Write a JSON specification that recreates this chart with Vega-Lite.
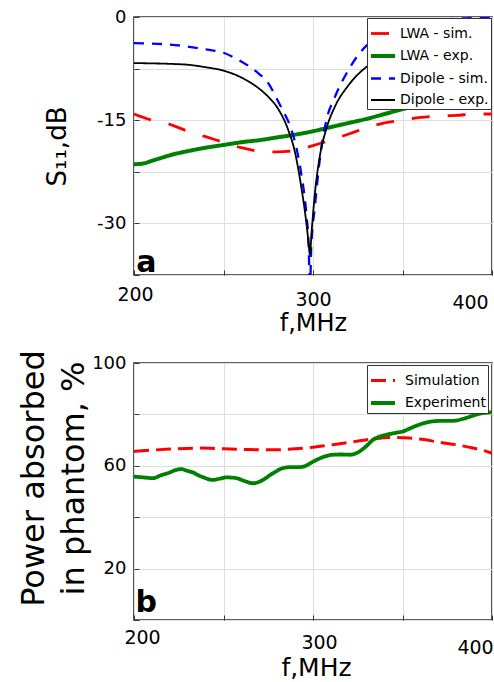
{
  "$schema": "https://vega.github.io/schema/vega-lite/v6.json",
  "background": "white",
  "padding": {"left": 16, "top": 7, "right": 5, "bottom": 5},
  "spacing": 88,
  "bounds": "flush",
  "resolve": {
    "scale": {"color": "independent", "strokeDash": "independent", "strokeWidth": "independent"},
    "legend": {"color": "independent", "strokeDash": "independent"}
  },
  "config": {
    "font": "DejaVu Sans",
    "view": {"stroke": "#2b2b2b", "strokeWidth": 1.6},
    "axis": {
      "grid": true,
      "gridColor": "#dedede",
      "gridWidth": 1,
      "domain": false,
      "ticks": true,
      "tickSize": -5,
      "tickColor": "#333333",
      "labelFont": "DejaVu Sans",
      "titleFont": "DejaVu Sans",
      "labelColor": "black",
      "titleColor": "black",
      "titleFontWeight": "normal",
      "labelFlush": false,
      "labelOverlap": false
    }
  },
  "datasets": {
    "s11": [
      {"series": "LWA - sim.", "f": 200, "v": -14.1},
      {"series": "LWA - sim.", "f": 210, "v": -15.0},
      {"series": "LWA - sim.", "f": 220, "v": -15.6},
      {"series": "LWA - sim.", "f": 230, "v": -16.6},
      {"series": "LWA - sim.", "f": 240, "v": -17.4},
      {"series": "LWA - sim.", "f": 250, "v": -18.2},
      {"series": "LWA - sim.", "f": 260, "v": -19.0},
      {"series": "LWA - sim.", "f": 270, "v": -19.5},
      {"series": "LWA - sim.", "f": 280, "v": -19.6},
      {"series": "LWA - sim.", "f": 290, "v": -19.4},
      {"series": "LWA - sim.", "f": 300, "v": -18.7},
      {"series": "LWA - sim.", "f": 310, "v": -17.9},
      {"series": "LWA - sim.", "f": 320, "v": -17.0},
      {"series": "LWA - sim.", "f": 330, "v": -16.1},
      {"series": "LWA - sim.", "f": 340, "v": -15.4},
      {"series": "LWA - sim.", "f": 350, "v": -15.0},
      {"series": "LWA - sim.", "f": 360, "v": -14.6},
      {"series": "LWA - sim.", "f": 370, "v": -14.4},
      {"series": "LWA - sim.", "f": 380, "v": -14.3},
      {"series": "LWA - sim.", "f": 390, "v": -14.1},
      {"series": "LWA - sim.", "f": 400, "v": -14.1},
      {"series": "LWA - exp.", "f": 200, "v": -21.4},
      {"series": "LWA - exp.", "f": 205, "v": -21.3},
      {"series": "LWA - exp.", "f": 210, "v": -20.9},
      {"series": "LWA - exp.", "f": 215, "v": -20.5},
      {"series": "LWA - exp.", "f": 220, "v": -20.1},
      {"series": "LWA - exp.", "f": 230, "v": -19.5},
      {"series": "LWA - exp.", "f": 240, "v": -19.0},
      {"series": "LWA - exp.", "f": 250, "v": -18.6},
      {"series": "LWA - exp.", "f": 260, "v": -18.2},
      {"series": "LWA - exp.", "f": 270, "v": -17.9},
      {"series": "LWA - exp.", "f": 280, "v": -17.5},
      {"series": "LWA - exp.", "f": 290, "v": -17.1},
      {"series": "LWA - exp.", "f": 300, "v": -16.6},
      {"series": "LWA - exp.", "f": 310, "v": -16.0},
      {"series": "LWA - exp.", "f": 320, "v": -15.4},
      {"series": "LWA - exp.", "f": 330, "v": -14.8},
      {"series": "LWA - exp.", "f": 340, "v": -14.1},
      {"series": "LWA - exp.", "f": 350, "v": -13.4},
      {"series": "LWA - exp.", "f": 360, "v": -12.7},
      {"series": "LWA - exp.", "f": 370, "v": -12.3},
      {"series": "LWA - exp.", "f": 380, "v": -11.8},
      {"series": "LWA - exp.", "f": 390, "v": -11.4},
      {"series": "LWA - exp.", "f": 400, "v": -10.9},
      {"series": "Dipole - sim.", "f": 200, "v": -3.8},
      {"series": "Dipole - sim.", "f": 220, "v": -4.0},
      {"series": "Dipole - sim.", "f": 240, "v": -4.7},
      {"series": "Dipole - sim.", "f": 250, "v": -5.2},
      {"series": "Dipole - sim.", "f": 256, "v": -5.9},
      {"series": "Dipole - sim.", "f": 265, "v": -7.3},
      {"series": "Dipole - sim.", "f": 270, "v": -8.3},
      {"series": "Dipole - sim.", "f": 275, "v": -9.6},
      {"series": "Dipole - sim.", "f": 280, "v": -12.0},
      {"series": "Dipole - sim.", "f": 284, "v": -14.0},
      {"series": "Dipole - sim.", "f": 287, "v": -15.7},
      {"series": "Dipole - sim.", "f": 290.7, "v": -19.0},
      {"series": "Dipole - sim.", "f": 293.5, "v": -22.9},
      {"series": "Dipole - sim.", "f": 296.3, "v": -28.7},
      {"series": "Dipole - sim.", "f": 297.6, "v": -33.5},
      {"series": "Dipole - sim.", "f": 298.3, "v": -40.0},
      {"series": "Dipole - sim.", "f": 299.0, "v": -33.5},
      {"series": "Dipole - sim.", "f": 301.0, "v": -27.7},
      {"series": "Dipole - sim.", "f": 303.7, "v": -20.9},
      {"series": "Dipole - sim.", "f": 307.4, "v": -15.1},
      {"series": "Dipole - sim.", "f": 312.1, "v": -11.7},
      {"series": "Dipole - sim.", "f": 319.6, "v": -7.8},
      {"series": "Dipole - sim.", "f": 325, "v": -5.6},
      {"series": "Dipole - sim.", "f": 331, "v": -3.9},
      {"series": "Dipole - sim.", "f": 340, "v": -2.5},
      {"series": "Dipole - sim.", "f": 350, "v": -1.6},
      {"series": "Dipole - sim.", "f": 360, "v": -1.0},
      {"series": "Dipole - sim.", "f": 370, "v": -0.5},
      {"series": "Dipole - sim.", "f": 380, "v": -0.25},
      {"series": "Dipole - sim.", "f": 390, "v": -0.15},
      {"series": "Dipole - sim.", "f": 400, "v": -0.1},
      {"series": "Dipole - exp.", "f": 200, "v": -6.7},
      {"series": "Dipole - exp.", "f": 228, "v": -6.9},
      {"series": "Dipole - exp.", "f": 240, "v": -7.3},
      {"series": "Dipole - exp.", "f": 250, "v": -7.8},
      {"series": "Dipole - exp.", "f": 261.5, "v": -9.0},
      {"series": "Dipole - exp.", "f": 270.8, "v": -10.6},
      {"series": "Dipole - exp.", "f": 275, "v": -11.6},
      {"series": "Dipole - exp.", "f": 280.4, "v": -13.3},
      {"series": "Dipole - exp.", "f": 286, "v": -16.3},
      {"series": "Dipole - exp.", "f": 289.8, "v": -19.5},
      {"series": "Dipole - exp.", "f": 293.5, "v": -24.8},
      {"series": "Dipole - exp.", "f": 295.7, "v": -28.7},
      {"series": "Dipole - exp.", "f": 297.6, "v": -33.0},
      {"series": "Dipole - exp.", "f": 298.2, "v": -34.5},
      {"series": "Dipole - exp.", "f": 299.4, "v": -30.6},
      {"series": "Dipole - exp.", "f": 301, "v": -25.8},
      {"series": "Dipole - exp.", "f": 303.7, "v": -20.4},
      {"series": "Dipole - exp.", "f": 307.4, "v": -16.3},
      {"series": "Dipole - exp.", "f": 312.1, "v": -13.1},
      {"series": "Dipole - exp.", "f": 319.6, "v": -10.0},
      {"series": "Dipole - exp.", "f": 330.7, "v": -7.1},
      {"series": "Dipole - exp.", "f": 340, "v": -5.9},
      {"series": "Dipole - exp.", "f": 350, "v": -5.2},
      {"series": "Dipole - exp.", "f": 370, "v": -4.5},
      {"series": "Dipole - exp.", "f": 400, "v": -3.9}
    ],
    "power": [
      {"series": "Simulation", "f": 200, "v": 65.6},
      {"series": "Simulation", "f": 220, "v": 66.5},
      {"series": "Simulation", "f": 236.7, "v": 66.9},
      {"series": "Simulation", "f": 250, "v": 66.6},
      {"series": "Simulation", "f": 265, "v": 66.3},
      {"series": "Simulation", "f": 277.6, "v": 66.2},
      {"series": "Simulation", "f": 290, "v": 66.6},
      {"series": "Simulation", "f": 300, "v": 67.2},
      {"series": "Simulation", "f": 312, "v": 68.3},
      {"series": "Simulation", "f": 324, "v": 69.5},
      {"series": "Simulation", "f": 333, "v": 70.4},
      {"series": "Simulation", "f": 342.8, "v": 71.0},
      {"series": "Simulation", "f": 354, "v": 70.8},
      {"series": "Simulation", "f": 362, "v": 70.2},
      {"series": "Simulation", "f": 370.8, "v": 69.1},
      {"series": "Simulation", "f": 380, "v": 68.2},
      {"series": "Simulation", "f": 389.4, "v": 66.9},
      {"series": "Simulation", "f": 395, "v": 66.0},
      {"series": "Simulation", "f": 400, "v": 64.9},
      {"series": "Experiment", "f": 200, "v": 55.8},
      {"series": "Experiment", "f": 205, "v": 55.5},
      {"series": "Experiment", "f": 210.6, "v": 55.2},
      {"series": "Experiment", "f": 215, "v": 56.3},
      {"series": "Experiment", "f": 219.9, "v": 57.4},
      {"series": "Experiment", "f": 223, "v": 58.3},
      {"series": "Experiment", "f": 226.4, "v": 58.7},
      {"series": "Experiment", "f": 230, "v": 58.0},
      {"series": "Experiment", "f": 233, "v": 57.4},
      {"series": "Experiment", "f": 236, "v": 56.3},
      {"series": "Experiment", "f": 238.5, "v": 55.6},
      {"series": "Experiment", "f": 244, "v": 54.5},
      {"series": "Experiment", "f": 248, "v": 55.0},
      {"series": "Experiment", "f": 251.6, "v": 55.5},
      {"series": "Experiment", "f": 257.2, "v": 55.2},
      {"series": "Experiment", "f": 262, "v": 54.0},
      {"series": "Experiment", "f": 266.5, "v": 53.2},
      {"series": "Experiment", "f": 270, "v": 53.8},
      {"series": "Experiment", "f": 272, "v": 54.5},
      {"series": "Experiment", "f": 277.6, "v": 57.1},
      {"series": "Experiment", "f": 283.2, "v": 59.1},
      {"series": "Experiment", "f": 288, "v": 59.5},
      {"series": "Experiment", "f": 292.5, "v": 59.5},
      {"series": "Experiment", "f": 296, "v": 60.0},
      {"series": "Experiment", "f": 298, "v": 60.8},
      {"series": "Experiment", "f": 302, "v": 62.3},
      {"series": "Experiment", "f": 305.6, "v": 63.4},
      {"series": "Experiment", "f": 311.2, "v": 64.3},
      {"series": "Experiment", "f": 316, "v": 64.4},
      {"series": "Experiment", "f": 320.5, "v": 64.3},
      {"series": "Experiment", "f": 326, "v": 65.6},
      {"series": "Experiment", "f": 330, "v": 67.8},
      {"series": "Experiment", "f": 333.5, "v": 70.1},
      {"series": "Experiment", "f": 337, "v": 71.3},
      {"series": "Experiment", "f": 341, "v": 72.1},
      {"series": "Experiment", "f": 346, "v": 72.8},
      {"series": "Experiment", "f": 350.3, "v": 73.4},
      {"series": "Experiment", "f": 354, "v": 74.5},
      {"series": "Experiment", "f": 357.8, "v": 75.6},
      {"series": "Experiment", "f": 362, "v": 76.6},
      {"series": "Experiment", "f": 367, "v": 77.3},
      {"series": "Experiment", "f": 372, "v": 77.5},
      {"series": "Experiment", "f": 378.2, "v": 77.5},
      {"series": "Experiment", "f": 384, "v": 78.3},
      {"series": "Experiment", "f": 389.4, "v": 79.5},
      {"series": "Experiment", "f": 394, "v": 80.4},
      {"series": "Experiment", "f": 400, "v": 80.8}
    ]
  },
  "vconcat": [
    {
      "width": 358,
      "height": 258,
      "layer": [
        {
          "data": {"name": "s11"},
          "mark": {"type": "line", "clip": true, "interpolate": "monotone"},
          "encoding": {
            "x": {
              "field": "f", "type": "quantitative",
              "scale": {"domain": [200, 400], "nice": false, "zero": false},
              "axis": {
                "values": [200, 250, 300, 350, 400],
                "labelExpr": "datum.value % 100 == 0 ? '' + datum.value : ''",
                "labelFontSize": 19,
                "labelBaseline": "alphabetic",
                "labelAlign": "center",
                "labelOffset": {"condition": [{"test": "datum.value == 200", "value": 1}, {"test": "datum.value == 400", "value": -22}], "value": 0},
                "labelPadding": {"condition": [{"test": "datum.value == 200", "value": 30}, {"test": "datum.value == 400", "value": 38}], "value": 35},
                "title": "f,MHz",
                "titleFontSize": 24,
                "titleBaseline": "alphabetic",
                "titleAlign": "center",
                "titleX": 179,
                "titleY": 55
              }
            },
            "y": {
              "field": "v", "type": "quantitative",
              "scale": {"domain": [-37.5, 0], "nice": false, "zero": false},
              "axis": {
                "values": [-37.5, -30, -22.5, -15, -7.5, 0],
                "labelExpr": "datum.value % 15 == 0 ? '' + datum.value : ''",
                "labelFontSize": 18,
                "labelPadding": 13,
                "title": "S₁₁,dB",
                "titleFontSize": 26,
                "titleAngle": 270,
                "titleBaseline": "alphabetic",
                "titleAlign": "center",
                "titleX": -69,
                "titleY": 129
              }
            },
            "color": {
              "field": "series", "type": "nominal",
              "scale": {"domain": ["LWA - sim.", "LWA - exp.", "Dipole - sim.", "Dipole - exp."], "range": ["#ff0000", "#008000", "#0000ff", "#000000"]},
              "legend": {
                "title": null, "orient": "none", "legendX": 233, "legendY": 1,
                "fillColor": "white", "strokeColor": "#333333", "padding": 2, "rowPadding": 1,
                "labelFont": "DejaVu Sans", "labelFontSize": 14, "labelColor": "black", "labelOffset": 3,
                "symbolType": "stroke", "symbolSize": 576, "symbolStrokeWidth": 2.5,
                "encode": {"symbols": {"update": {"strokeDash": {"signal": "indexof(['LWA - sim.', 'Dipole - sim.'], datum.value) >= 0 ? [6, 3] : [1, 0]"}}}}
              }
            },
            "strokeDash": {
              "field": "series", "type": "nominal",
              "scale": {"domain": ["LWA - sim.", "LWA - exp.", "Dipole - sim.", "Dipole - exp."], "range": [[18, 18], [1, 0], [10, 8], [1, 0]]},
              "legend": null
            },
            "strokeWidth": {
              "field": "series", "type": "nominal",
              "scale": {"type": "ordinal", "domain": ["LWA - sim.", "LWA - exp.", "Dipole - sim.", "Dipole - exp."], "range": [2.8, 4, 2.3, 1.8]},
              "legend": null
            }
          }
        },
        {
          "data": {"values": [{"f": 201.3, "v": -37.1, "t": "a"}]},
          "mark": {"type": "text", "font": "DejaVu Sans", "fontWeight": "bold", "fontSize": 30, "align": "left", "baseline": "alphabetic", "color": "black"},
          "encoding": {
            "x": {"field": "f", "type": "quantitative"},
            "y": {"field": "v", "type": "quantitative"},
            "text": {"field": "t"}
          }
        }
      ]
    },
    {
      "width": 358,
      "height": 257,
      "layer": [
        {
          "data": {"name": "power"},
          "mark": {"type": "line", "clip": true, "interpolate": "monotone"},
          "encoding": {
            "x": {
              "field": "f", "type": "quantitative",
              "scale": {"domain": [200, 400], "nice": false, "zero": false},
              "axis": {
                "values": [200, 250, 300, 350, 400],
                "labelExpr": "datum.value % 100 == 0 ? '' + datum.value : ''",
                "labelFontSize": 19,
                "labelBaseline": "alphabetic",
                "labelAlign": "center",
                "labelOffset": {"condition": [{"test": "datum.value == 200", "value": 8}, {"test": "datum.value == 400", "value": -17}], "value": 6},
                "labelPadding": {"condition": [{"test": "datum.value == 200", "value": 28}, {"test": "datum.value == 400", "value": 38}], "value": 33},
                "title": "f,MHz",
                "titleFontSize": 25,
                "titleBaseline": "alphabetic",
                "titleAlign": "center",
                "titleX": 182,
                "titleY": 55
              }
            },
            "y": {
              "field": "v", "type": "quantitative",
              "scale": {"domain": [0, 100], "nice": false, "zero": false},
              "axis": {
                "values": [0, 20, 40, 60, 80, 100],
                "labelExpr": "datum.value % 40 == 20 ? '' + datum.value : ''",
                "labelFontSize": 18,
                "labelPadding": 13,
                "title": ["Power absorbed", "in phantom, %"],
                "titleFontSize": 32,
                "titleLineHeight": 40,
                "titleAngle": 270,
                "titleBaseline": "alphabetic",
                "titleAlign": "center",
                "titleX": -91,
                "titleY": 115
              }
            },
            "color": {
              "field": "series", "type": "nominal",
              "scale": {"domain": ["Simulation", "Experiment"], "range": ["#ff0000", "#008000"]},
              "legend": {
                "title": null, "orient": "none", "legendX": 233, "legendY": 2,
                "fillColor": "white", "strokeColor": "#333333", "padding": 2, "rowPadding": 1,
                "labelFont": "DejaVu Sans", "labelFontSize": 14, "labelColor": "black", "labelOffset": 8,
                "symbolType": "stroke", "symbolSize": 576, "symbolStrokeWidth": 2.5,
                "encode": {"symbols": {"update": {"strokeDash": {"signal": "datum.value == 'Simulation' ? [6, 3] : [1, 0]"}}}}
              }
            },
            "strokeDash": {
              "field": "series", "type": "nominal",
              "scale": {"domain": ["Simulation", "Experiment"], "range": [[15, 7], [1, 0]]},
              "legend": null
            },
            "strokeWidth": {
              "field": "series", "type": "nominal",
              "scale": {"type": "ordinal", "domain": ["Simulation", "Experiment"], "range": [3, 3.8]},
              "legend": null
            }
          }
        },
        {
          "data": {"values": [{"f": 200.8, "v": 3.1, "t": "b"}]},
          "mark": {"type": "text", "font": "DejaVu Sans", "fontWeight": "bold", "fontSize": 30, "align": "left", "baseline": "alphabetic", "color": "black"},
          "encoding": {
            "x": {"field": "f", "type": "quantitative"},
            "y": {"field": "v", "type": "quantitative"},
            "text": {"field": "t"}
          }
        }
      ]
    }
  ]
}
